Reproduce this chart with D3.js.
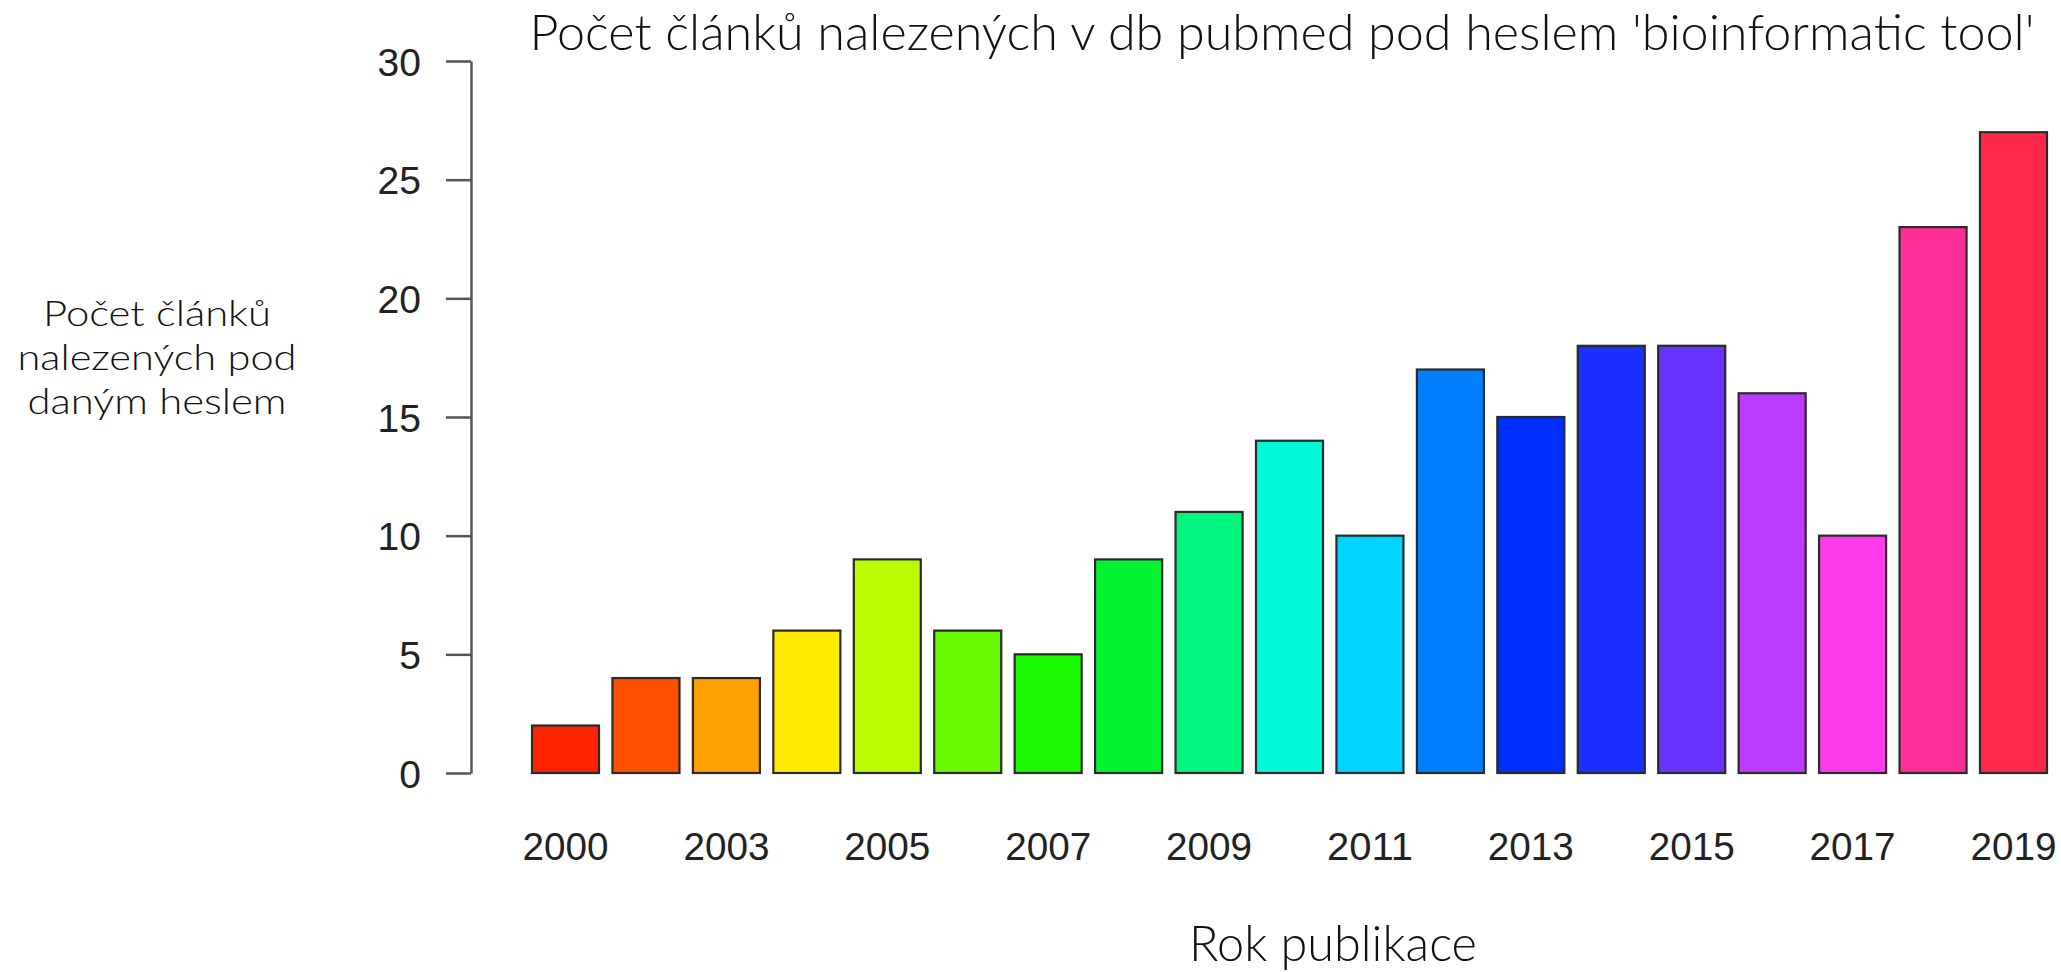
<!DOCTYPE html>
<html>
<head>
<meta charset="utf-8">
<script src="https://cdn.jsdelivr.net/npm/d3@7/dist/d3.min.js"></script>
<style>
  html, body { margin: 0; padding: 0; background: #ffffff; }
  svg { display: block; }
</style>
</head>
<body>
<div id="chart"></div>
<script>
// ---- data ----
const years = ["2000","2001","2003","2004","2005","2006","2007","2008","2009","2010",
               "2011","2012","2013","2014","2015","2016","2017","2018","2019"];
const counts = [2, 4, 4, 6, 9, 6, 5, 9, 11, 14, 10, 17, 15, 18, 18, 16, 10, 23, 27];
const barColors = ["#ff2400","#ff5100","#ffa000","#ffea00","#bbfb00","#67fa00","#1af800",
                   "#00f530","#00f67f","#00fad5","#00d4ff","#0080ff","#0030ff","#1a30ff",
                   "#6a33ff","#ba3cff","#ff3aeb","#ff2e97","#ff2848"];
const yTicks = [0, 5, 10, 15, 20, 25, 30];
const titleText = "Počet článků nalezených v db pubmed pod heslem 'bioinformatic tool'";
const yLabelLines = ["Počet článků", "nalezených pod", "daným heslem"];
const xLabelText = "Rok publikace";

// ---- layout ----
const W = 2061, H = 972;
const svg = d3.select("#chart").append("svg")
  .attr("width", W).attr("height", H)
  .style("background", "#ffffff");

const x = d3.scaleBand()
  .domain(years)
  .range([532, 2047])
  .paddingInner(0.2 / 1.2)
  .paddingOuter(0);

const y = d3.scaleLinear().domain([0, 30]).range([773, 61]);

// bars
svg.append("g").selectAll("rect")
  .data(years)
  .join("rect")
  .attr("x", d => x(d))
  .attr("y", (d, i) => y(counts[i]))
  .attr("width", x.bandwidth())
  .attr("height", (d, i) => y(0) - y(counts[i]))
  .attr("fill", (d, i) => barColors[i])
  .attr("stroke", "#2a2a2a")
  .attr("stroke-width", 2.2);

// y axis
const yAxis = d3.axisLeft(y)
  .tickValues(yTicks)
  .tickSize(25)
  .tickSizeOuter(0)
  .tickPadding(25)
  .tickFormat(d3.format("d"));
const gy = svg.append("g").attr("transform", "translate(471,0)").call(yAxis);
gy.select(".domain").attr("stroke", "#555").attr("stroke-width", 2.5);
gy.selectAll(".tick line").attr("stroke", "#555").attr("stroke-width", 2.5);
gy.selectAll(".tick text")
  .attr("font-family", "'Liberation Sans', Arial, sans-serif")
  .attr("font-size", 39)
  .attr("fill", "#222")
  .attr("dy", "0.36em");

// x axis (labels only; alternate labels as in the reference)
const shownYears = years.filter((d, i) => i % 2 === 0);
const xAxis = d3.axisBottom(x).tickValues(shownYears).tickSize(0).tickPadding(0);
const gx = svg.append("g").attr("transform", "translate(0,773)").call(xAxis);
gx.select(".domain").remove();
gx.selectAll(".tick text")
  .attr("y", 87)
  .attr("dy", 0)
  .attr("font-family", "'Liberation Sans', Arial, sans-serif")
  .attr("font-size", 39)
  .attr("fill", "#222")
  .attr("textLength", 86)
  .attr("lengthAdjust", "spacingAndGlyphs");

// title
svg.append("text")
  .attr("x", 1282).attr("y", 50)
  .attr("text-anchor", "middle")
  .attr("font-family", "Lato, 'Open Sans', sans-serif")
  .attr("font-weight", 300)
  .attr("font-size", 50)
  .attr("fill", "#111")
  .attr("textLength", 1505)
  .attr("lengthAdjust", "spacingAndGlyphs")
  .text(titleText);

// y label (three lines)
const yLabWidths = [228, 279, 259];
const yLab = svg.append("g");
yLabelLines.forEach((t, i) => {
  yLab.append("text")
    .attr("x", 157)
    .attr("y", 326 + i * 44)
    .attr("text-anchor", "middle")
    .attr("font-family", "Lato, 'Open Sans', sans-serif")
    .attr("font-weight", 300)
    .attr("font-size", 36)
    .attr("fill", "#111")
    .attr("textLength", yLabWidths[i])
    .attr("lengthAdjust", "spacingAndGlyphs")
    .text(t);
});

// x label
svg.append("text")
  .attr("x", 1333).attr("y", 961)
  .attr("text-anchor", "middle")
  .attr("font-family", "Lato, 'Open Sans', sans-serif")
  .attr("font-weight", 300)
  .attr("font-size", 50)
  .attr("fill", "#111")
  .attr("textLength", 288)
  .attr("lengthAdjust", "spacingAndGlyphs")
  .text(xLabelText);
</script>
</body>
</html>
